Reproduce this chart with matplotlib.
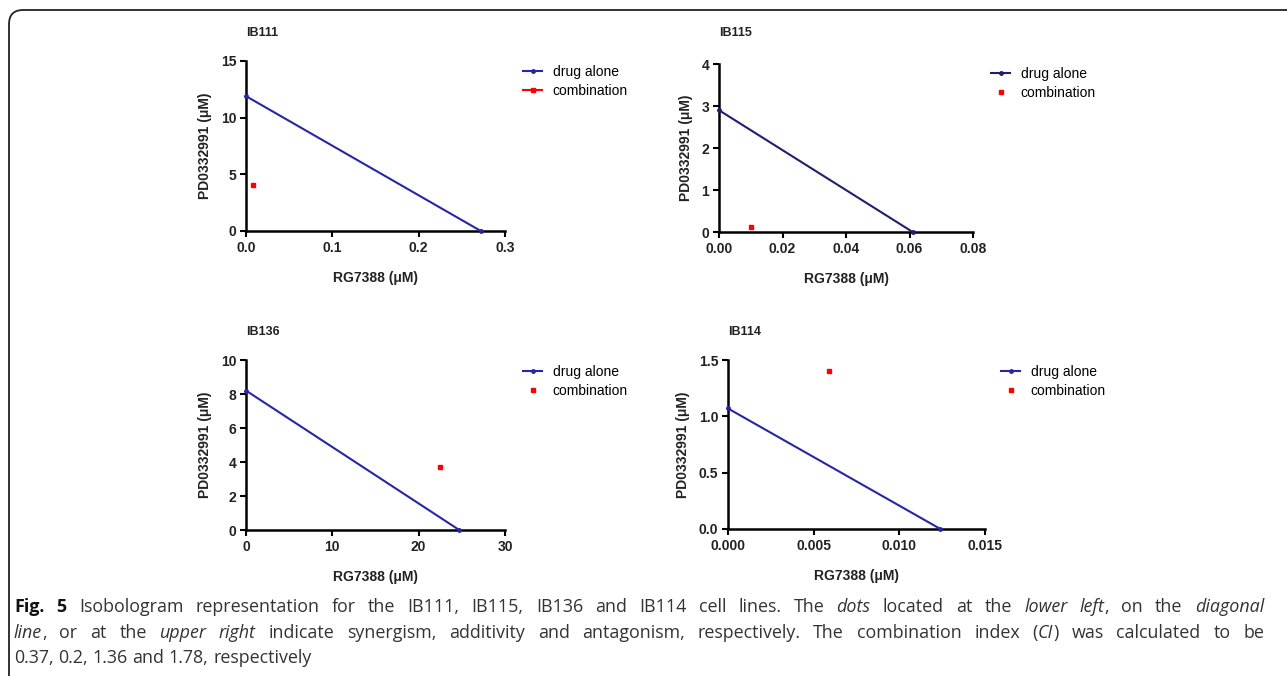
import matplotlib
matplotlib.use("Agg")
import matplotlib.pyplot as plt
from matplotlib.patches import FancyBboxPatch

# data
panels = ["IB111", "IB115", "IB136", "IB114"]
alone_x = [[0, 0.272], [0, 0.061], [0, 24.7], [0, 0.0124]]
alone_y = [[11.9, 0], [2.9, 0], [8.2, 0], [1.07, 0]]
combo_x = [0.008, 0.010, 22.5, 0.0059]
combo_y = [4.05, 0.13, 3.7, 1.40]
xticks = [[0.0, 0.1, 0.2, 0.3], [0.00, 0.02, 0.04, 0.06, 0.08], [0, 10, 20, 30], [0.000, 0.005, 0.010, 0.015]]
xticklabels = [["0.0", "0.1", "0.2", "0.3"], ["0.00", "0.02", "0.04", "0.06", "0.08"],
               ["0", "10", "20", "30"], ["0.000", "0.005", "0.010", "0.015"]]
yticks = [[0, 5, 10, 15], [0, 1, 2, 3, 4], [0, 2, 4, 6, 8, 10], [0.0, 0.5, 1.0, 1.5]]
yticklabels = [["0", "5", "10", "15"], ["0", "1", "2", "3", "4"],
               ["0", "2", "4", "6", "8", "10"], ["0.0", "0.5", "1.0", "1.5"]]
line_colors = ["#2626a6", "#1f1f6e", "#2626a6", "#2626a6"]

W, H = 1287, 676
fig = plt.figure(figsize=(W / 100, H / 100), dpi=100)
fig.patch.set_facecolor("white")

# axes boxes in pixels: left, top, right, bottom
boxes = [(246, 61, 505, 231), (719, 64, 973, 232), (246, 360, 505, 530), (728, 360, 985, 529)]
title_y = [33, 33, 332, 332]
legend_pos = [(523, 65), (991, 67), (523, 365), (1001, 365)]
ink = "#222222"

for i in range(4):
    l, t, r, b = boxes[i]
    ax = fig.add_axes([l / W, 1 - b / H, (r - l) / W, (b - t) / H])
    ax.plot(alone_x[i], alone_y[i], color=line_colors[i], lw=1.5, marker="o", ms=2.5,
            label="drug alone", clip_on=False, zorder=3)
    ls = "-" if i == 0 else "none"
    ax.plot([combo_x[i]], [combo_y[i]], color="red", ls=ls, lw=1.5, marker="s", ms=3.5,
            label="combination", clip_on=False, zorder=3)
    ax.set_xlim(xticks[i][0], xticks[i][-1])
    ax.set_ylim(yticks[i][0], yticks[i][-1])
    ax.set_xticks(xticks[i])
    ax.set_xticklabels(xticklabels[i])
    ax.set_yticks(yticks[i])
    ax.set_yticklabels(yticklabels[i])
    for s in ["top", "right"]:
        ax.spines[s].set_visible(False)
    for s in ["left", "bottom"]:
        ax.spines[s].set_linewidth(1.8)
    ax.tick_params(direction="out", length=4, width=1.5, labelsize=10, pad=3)
    for lab in ax.get_xticklabels() + ax.get_yticklabels():
        lab.set_fontweight("bold")
        lab.set_family("Liberation Sans")
        lab.set_color(ink)
    ax.set_xlabel("RG7388 (μM)", fontsize=10, fontweight="bold", family="Liberation Sans",
                  labelpad=12, color=ink)
    ax.set_ylabel("PD0332991 (μM)", fontsize=10, fontweight="bold", family="Liberation Sans",
                  labelpad=6, color=ink)
    fig.text(l / W, 1 - title_y[i] / H, panels[i], fontsize=9, fontweight="bold",
             family="Liberation Sans", va="center", ha="left", color=ink)
    lx, ly = legend_pos[i]
    ax.legend(loc="upper left", bbox_to_anchor=(lx / W, 1 - ly / H), bbox_transform=fig.transFigure,
              frameon=False, borderpad=0, borderaxespad=0, handlelength=1.4, handletextpad=0.75,
              labelspacing=0.38, prop={"family": "Liberation Sans", "size": 10})

# rounded frame, only the top left corner shows
frame = FancyBboxPatch((9 / W, -0.5), 1.5, 1.5 - 10 / H, boxstyle="round,pad=0,rounding_size=0.011",
                       transform=fig.transFigure, fill=False, lw=1.3, ec=ink,
                       mutation_aspect=W / H)
fig.patches.append(frame)

# caption: words made of (text, style) pieces, lines justified like the journal layout
cap_family = "Open Sans"
cap_size = 12.9
cap_lines = [
    [[("Fig.", "b")], [("5", "b")], [("Isobologram", "n")], [("representation", "n")], [("for", "n")],
     [("the", "n")], [("IB111,", "n")], [("IB115,", "n")], [("IB136", "n")], [("and", "n")],
     [("IB114", "n")], [("cell", "n")], [("lines.", "n")], [("The", "n")], [("dots", "i")],
     [("located", "n")], [("at", "n")], [("the", "n")], [("lower", "i")], [("left", "i"), (",", "n")],
     [("on", "n")], [("the", "n")], [("diagonal", "i")]],
    [[("line", "i"), (",", "n")], [("or", "n")], [("at", "n")], [("the", "n")], [("upper", "i")],
     [("right", "i")], [("indicate", "n")], [("synergism,", "n")], [("additivity", "n")], [("and", "n")],
     [("antagonism,", "n")], [("respectively.", "n")], [("The", "n")], [("combination", "n")],
     [("index", "n")], [("(", "n"), ("CI", "i"), (")", "n")], [("was", "n")], [("calculated", "n")],
     [("to", "n")], [("be", "n")]],
    [[("0.37,", "n")], [("0.2,", "n")], [("1.36", "n")], [("and", "n")], [("1.78,", "n")],
     [("respectively", "n")]],
]
cap_y = [607, 633, 658]
cap_left, cap_right = 14, 1264
justify = [True, True, False]

renderer = fig.canvas.get_renderer()


def style_kw(st):
    return dict(fontweight="bold" if st == "b" else "normal",
                fontstyle="italic" if st == "i" else "normal",
                color="#111111" if st == "b" else "#333333")


def text_w(s, st):
    t = fig.text(0, 0, s, fontsize=cap_size, family=cap_family, **style_kw(st))
    w = t.get_window_extent(renderer).width
    t.remove()
    return w


natural_space = text_w("x x", "n") - text_w("xx", "n")

for words, y, just in zip(cap_lines, cap_y, justify):
    widths = [[text_w(s, st) for s, st in w] for w in words]
    total = sum(sum(ws) for ws in widths)
    gap = (cap_right - cap_left - total) / (len(words) - 1) if just else natural_space
    x = cap_left
    for w, ws in zip(words, widths):
        for (s, st), pw in zip(w, ws):
            fig.text(x / W, 1 - y / H, s, fontsize=cap_size, family=cap_family, va="center",
                     ha="left", **style_kw(st))
            x += pw
        x += gap

fig.savefig("out.png", dpi=100)
